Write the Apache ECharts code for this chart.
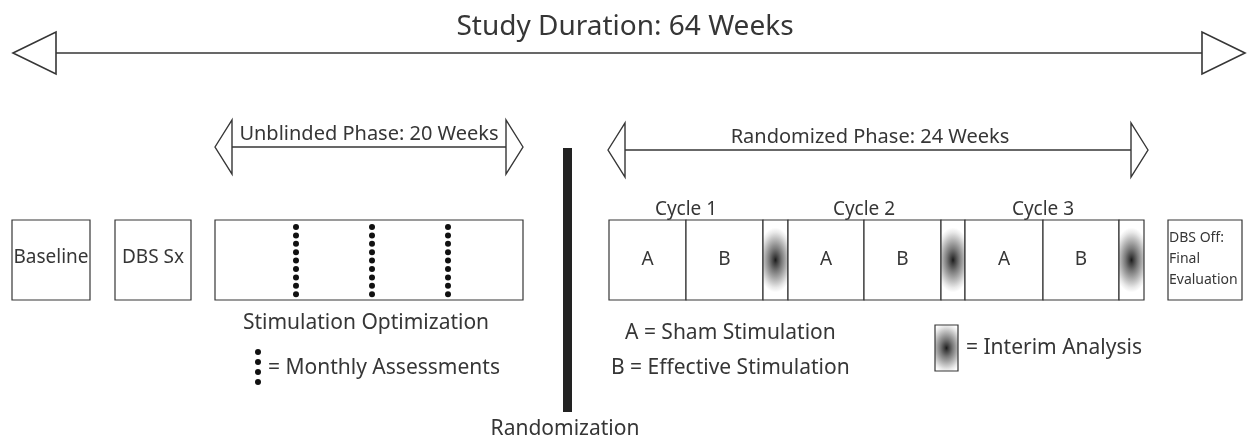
<!DOCTYPE html>
<html>
<head>
<meta charset="utf-8">
<script src="https://cdn.jsdelivr.net/npm/echarts@6/dist/echarts.min.js"></script>
<style>
html, body { margin: 0; padding: 0; background: #fff; }
#main { width: 1247px; height: 440px; }
</style>
</head>
<body>
<div id="main"></div>
<script>
// diagram content (x / y are diagram units on a hidden 1247 x 440 axis pair)
var phaseLabels = ['Study Duration: 64 Weeks', 'Unblinded Phase: 20 Weeks', 'Randomized Phase: 24 Weeks'];
var phaseFrom = [13, 215, 608];
var phaseTo = [1245, 523, 1148];
var phaseLineY = [53, 147, 150];

var boxLabels = ['Baseline', 'DBS Sx', '', 'DBS Off:\nFinal\nEvaluation'];
var boxFrom = [12, 115, 215, 1168];
var boxTo = [90, 191, 523, 1242];

var cellLabels = ['A', 'B', '', 'A', 'B', '', 'A', 'B', ''];
var cellEdges = [609, 686, 763, 788, 864, 941, 965, 1043, 1119, 1144];

var cycleLabels = ['Cycle 1', 'Cycle 2', 'Cycle 3'];
var cycleCenters = [686, 864, 1043];

var assessCols = [296, 372, 448];

var noteTexts = ['Stimulation Optimization', '= Monthly Assessments', 'A = Sham Stimulation',
                 'B = Effective Stimulation', '= Interim Analysis', 'Randomization'];
var noteX = [366, 268, 625, 611, 966, 565];
var noteY = [323, 368, 333, 368, 348, 429];

var FONT = '"Noto Sans", sans-serif';
var INK = '#363636';
var rowTop = 220, rowBottom = 300;

function rectOf(api, x0, y0, x1, y1) {
	var p0 = api.coord([x0, y0]), p1 = api.coord([x1, y1]);
	return {
		x: Math.min(p0[0], p1[0]), y: Math.min(p0[1], p1[1]),
		width: Math.abs(p1[0] - p0[0]), height: Math.abs(p1[1] - p0[1])
	};
}

function textEl(api, txt, x, y, size, align) {
	var p = api.coord([x, y]);
	return {
		type: 'text',
		style: {
			text: txt, x: p[0], y: p[1], fill: INK,
			font: size + 'px ' + FONT,
			align: align || 'center', verticalAlign: 'middle',
			textAlign: align || 'center', textVerticalAlign: 'middle'
		}
	};
}

// blurred dark spot for interim analysis cells; gradient is stretched vertically
function interimSpot(r, stretch) {
	var w = r.width, h = r.height / stretch;
	return {
		type: 'rect',
		shape: { x: -w / 2, y: -h / 2, width: w, height: h },
		x: r.x + r.width / 2, y: r.y + r.height / 2,
		scaleY: stretch,
		style: {
			fill: new echarts.graphic.RadialGradient(0, 0, 18, [
				{ offset: 0, color: '#1a1a1a' },
				{ offset: 0.1, color: '#3a3a3a' },
				{ offset: 0.35, color: '#7a7a7a' },
				{ offset: 0.65, color: '#bcbcbc' },
				{ offset: 0.85, color: '#e8e8e8' },
				{ offset: 1, color: '#fff' }
			], true)
		}
	};
}

function renderPhase(params, api) {
	var i = params.dataIndex;
	var big = i === 0;
	var head = big ? 43 : 17, half = big ? 21 : 27;
	var a = api.coord([phaseFrom[i], phaseLineY[i]]);
	var b = api.coord([phaseTo[i], phaseLineY[i]]);
	var lw = big ? 1.6 : 1.4;
	var label = big
		? textEl(api, phaseLabels[i], 625, 27, 28)
		: textEl(api, phaseLabels[i], i === 1 ? 369 : 870, phaseLineY[i] - 13, 20);
	return {
		type: 'group',
		children: [
			{ type: 'line', shape: { x1: a[0] + head, y1: a[1], x2: b[0] - head, y2: b[1] }, style: { stroke: INK, lineWidth: lw } },
			{ type: 'polygon', shape: { points: [[a[0], a[1]], [a[0] + head, a[1] - half], [a[0] + head, a[1] + half]] },
				style: { fill: '#fff', stroke: INK, lineWidth: lw } },
			{ type: 'polygon', shape: { points: [[b[0], b[1]], [b[0] - head, b[1] - half], [b[0] - head, b[1] + half]] },
				style: { fill: '#fff', stroke: INK, lineWidth: lw } },
			label
		]
	};
}

function renderBox(params, api) {
	var i = params.dataIndex;
	var r = rectOf(api, boxFrom[i], rowTop, boxTo[i], rowBottom);
	var kids = [{ type: 'rect', shape: r, style: { fill: '#fff', stroke: INK, lineWidth: 1.2 } }];
	if (i === 3) {
		var lines = boxLabels[i].split('\n');
		for (var k = 0; k < lines.length; k++) {
			kids.push(textEl(api, lines[k], boxFrom[i] + 1, 238 + k * 21, 14, 'left'));
		}
	} else if (boxLabels[i]) {
		kids.push(textEl(api, boxLabels[i], (boxFrom[i] + boxTo[i]) / 2, 258, 19));
	}
	return { type: 'group', children: kids };
}

function renderCell(params, api) {
	var i = params.dataIndex;
	var r = rectOf(api, cellEdges[i], rowTop, cellEdges[i + 1], rowBottom);
	var kids = [{ type: 'rect', shape: r, style: { fill: '#fff' } }];
	if (cellLabels[i]) {
		kids.push(textEl(api, cellLabels[i], (cellEdges[i] + cellEdges[i + 1]) / 2, 260, 19));
	} else {
		kids.push(interimSpot(r, 1.8));
	}
	kids.push({ type: 'rect', shape: r, style: { fill: 'none', stroke: INK, lineWidth: 1.2 } });
	return { type: 'group', children: kids };
}

function renderDots(params, api) {
	var i = params.dataIndex;
	var kids = [];
	for (var k = 0; k < 9; k++) {
		var p = api.coord([assessCols[i], 227 + k * 8.4]);
		kids.push({ type: 'circle', shape: { cx: p[0], cy: p[1], r: 3 }, style: { fill: '#111' } });
	}
	return { type: 'group', children: kids };
}

function renderNote(params, api) {
	var i = params.dataIndex;
	var align = (i === 0 || i === 5) ? 'center' : 'left';
	return textEl(api, noteTexts[i], noteX[i], noteY[i], 21, align);
}

function renderMarks(params, api) {
	// randomization bar and the two legend keys
	var bar = rectOf(api, 563, 148, 572, 412);
	var kids = [{ type: 'rect', shape: bar, style: { fill: '#222' } }];
	for (var k = 0; k < 4; k++) {
		var p = api.coord([258, 352 + k * 10]);
		kids.push({ type: 'circle', shape: { cx: p[0], cy: p[1], r: 3 }, style: { fill: '#111' } });
	}
	var key = rectOf(api, 935, 325, 958, 371);
	kids.push({ type: 'rect', shape: key, style: { fill: '#fff' } });
	kids.push(interimSpot(key, 1.4));
	kids.push({ type: 'rect', shape: key, style: { fill: 'none', stroke: INK, lineWidth: 1.2 } });
	return { type: 'group', children: kids };
}

function cyclesRender(params, api) {
	var i = params.dataIndex;
	return textEl(api, cycleLabels[i], cycleCenters[i], 210, 19);
}

function idx(arr) {
	return arr.map(function (v, n) { return [n, n]; });
}

var chart = echarts.init(document.getElementById('main'));
var option = {
	animation: false,
	grid: { left: 0, right: 0, top: 0, bottom: 0 },
	xAxis: { type: 'value', min: 0, max: 1247, show: false },
	yAxis: { type: 'value', min: 0, max: 440, inverse: true, show: false },
	series: [
		{ type: 'custom', name: 'phases', renderItem: renderPhase, data: idx(phaseLabels), silent: true, clip: false },
		{ type: 'custom', name: 'boxes', renderItem: renderBox, data: idx(boxLabels), silent: true, clip: false },
		{ type: 'custom', name: 'cells', renderItem: renderCell, data: idx(cellLabels), silent: true, clip: false },
		{ type: 'custom', name: 'cycles', renderItem: cyclesRender, data: idx(cycleLabels), silent: true, clip: false },
		{ type: 'custom', name: 'assessments', renderItem: renderDots, data: idx(assessCols), silent: true, clip: false },
		{ type: 'custom', name: 'notes', renderItem: renderNote, data: idx(noteTexts), silent: true, clip: false },
		{ type: 'custom', name: 'marks', renderItem: renderMarks, data: [[0, 0]], silent: true, clip: false }
	]
};
chart.setOption(option);
</script>
</body>
</html>
